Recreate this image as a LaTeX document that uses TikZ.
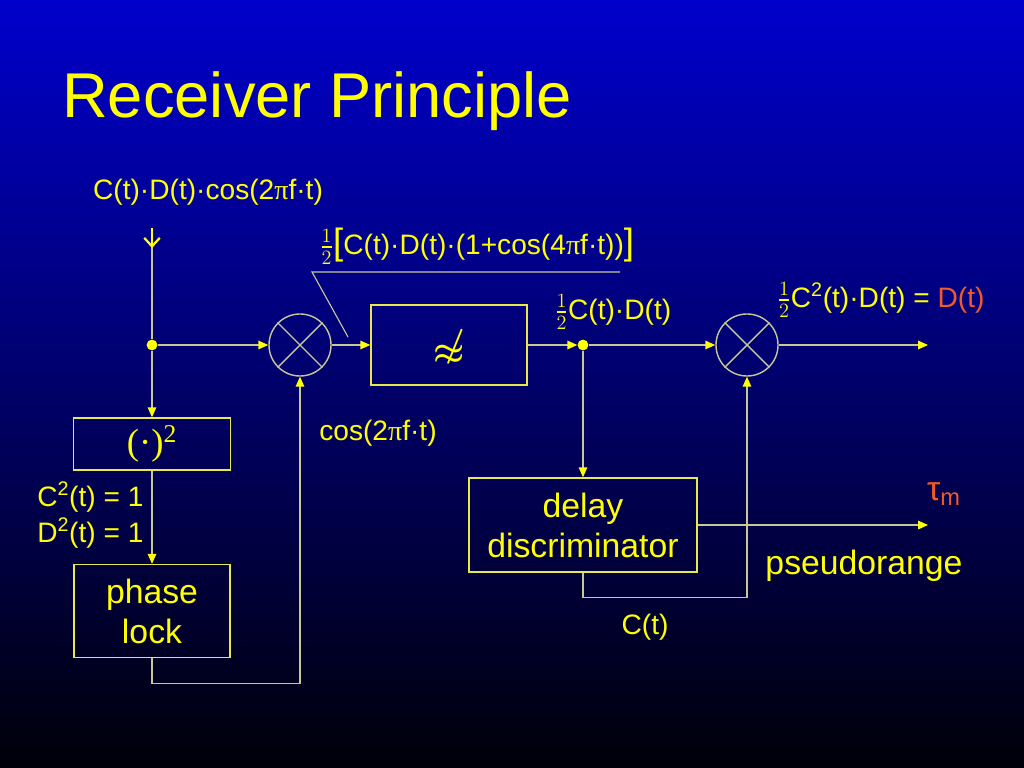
\documentclass[tikz,border=0pt]{standalone}
\usepackage{amsmath}
\usepackage{fontspec}
\setmainfont{Liberation Sans}
\newfontfamily\serif{Liberation Serif}
\usetikzlibrary{arrows.meta, calc}
\definecolor{bgtop}{HTML}{0000CC}
\definecolor{bgmid}{HTML}{00009A}
\definecolor{bgbot}{HTML}{000008}
\definecolor{sigyel}{HTML}{FFFF00}
\definecolor{boxyel}{HTML}{E8E84A}
\definecolor{wirecol}{HTML}{C8C896}
\definecolor{hot}{HTML}{F25A28}
\newcommand{\pii}{{\serif π}}

\begin{document}
\begin{tikzpicture}[
    x=0.025cm, y=0.025cm,
    lab/.style={text=sigyel, font=\fontsize{20}{25.6}\selectfont, inner sep=0pt},
    blk/.style={draw=boxyel, line width=1pt, text=sigyel, inner sep=0pt,
        align=center, font=\fontsize{24}{28.5}\selectfont},
    mix/.style={circle, draw=wirecol, line width=1pt, minimum size=1.55cm, inner sep=0pt},
    dot/.style={circle, fill=sigyel, minimum size=0.27cm, inner sep=0pt},
    wire/.style={draw=wirecol, line width=1pt},
    sig/.style={wire, -{Triangle[length=7pt, width=6pt, color=sigyel]}},
]
% slide background, 1024 x 768 px, y measured downwards as -y
\shade[top color=bgtop, middle color=bgmid, bottom color=bgbot]
    (0,0) rectangle (1024,-768);
\useasboundingbox (0,0) rectangle (1024,-768);

% title
\node[text=sigyel, font=\fontsize{45}{50}\selectfont, anchor=base west, inner sep=0pt]
    (title) at (62,-118) {Receiver Principle};

% blocks
\node[blk, minimum width=3.925cm, minimum height=1.3cm, font=\fontsize{26}{28}\serif]
    (sq) at (152,-444) {(·)\textsuperscript{2}};
\node[blk, minimum width=3.9cm, minimum height=2.325cm] (pl) at (152,-611) {phase\\lock};
\node[blk, minimum width=3.9cm, minimum height=2cm, font=\fontsize{34}{34}\selectfont]
    (lpf) at (449,-345) {\raisebox{-0.38em}[0pt][0pt]{\ooalign{$\boldsymbol{\approx}$\cr
        \hidewidth\kern0.25em\raisebox{0.16em}{$\boldsymbol{/}$}\hidewidth\cr}}};
\node[blk, minimum width=5.7cm, minimum height=2.35cm] (dd) at (583,-525) {delay\\discriminator};

% mixers
\node[mix] (m1) at (300,-345) {};
\node[mix] (m2) at (747,-345) {};
\foreach \m in {m1,m2} {
    \draw[wire] (\m.north west) -- (\m.south east);
    \draw[wire] (\m.north east) -- (\m.south west);
}

% junctions and free ends
\node[dot] (j1) at (152,-345) {};
\node[dot] (j2) at (583,-345) {};
\coordinate (in) at (152,-228);
\coordinate (inh) at (152,-248);
\coordinate (out) at (928,-345);
\coordinate (tau) at (928,-525);

% signal path
\draw[wire] (in) -- (j1);
\draw[sigyel, line width=1.6pt, -{Straight Barb[length=6pt, width=11pt]}] (in) -- (inh);
\draw[sig] (j1) -- (m1);
\draw[sig] (m1) -- (lpf);
\draw[sig] (lpf) -- (j2);
\draw[sig] (j2) -- (m2);
\draw[sig] (m2) -- (out);

% carrier loop
\draw[sig] (j1) -- (sq);
\draw[sig] (sq) -- (pl);
\draw[sig] (pl.south) -- ++(0,-25) -| (m1);

% code loop
\draw[sig] (j2) -- (dd);
\draw[sig] (dd.east) -- (tau);
\draw[sig] (dd.south) -- ++(0,-25) -| (m2);

% callout
\coordinate (c1) at (312,-272);
\coordinate (c2) at (620,-272);
\coordinate (c3) at (348,-337);
\draw[wirecol, line width=0.8pt] (c2) -- (c1) -- (c3);

% labels
\node[lab] (lin) at (208,-192) {C(t)·D(t)·cos(2\pii f·t)};
\node[lab] (lmix) at (477,-246) {$\tfrac12${\fontsize{26}{26}\selectfont[}C(t)·D(t)·(1+cos(4\pii f·t)){\fontsize{26}{26}\selectfont]}};
\node[lab] (llpf) at (613,-312) {$\tfrac12$C(t)·D(t)};
\node[lab] (lout) at (881,-300) {$\tfrac12$C\textsuperscript{2}(t)·D(t) = \textcolor{hot}{D(t)}};
\node[lab] (lcos) at (378,-433) {cos(2\pii f·t)};
\node[lab, anchor=west, align=left] (lsq) at (37,-515) {C\textsuperscript{2}(t) = 1\\D\textsuperscript{2}(t) = 1};
\node[lab, text=hot, font=\fontsize{24}{26}\selectfont] (ltau) at (944,-494) {τ\textsubscript{m}};
\node[lab, font=\fontsize{24}{28}\selectfont] (lpr) at (864,-566) {pseudorange};
\node[lab] (lct) at (645,-627) {C(t)};
\end{tikzpicture}
\end{document}
